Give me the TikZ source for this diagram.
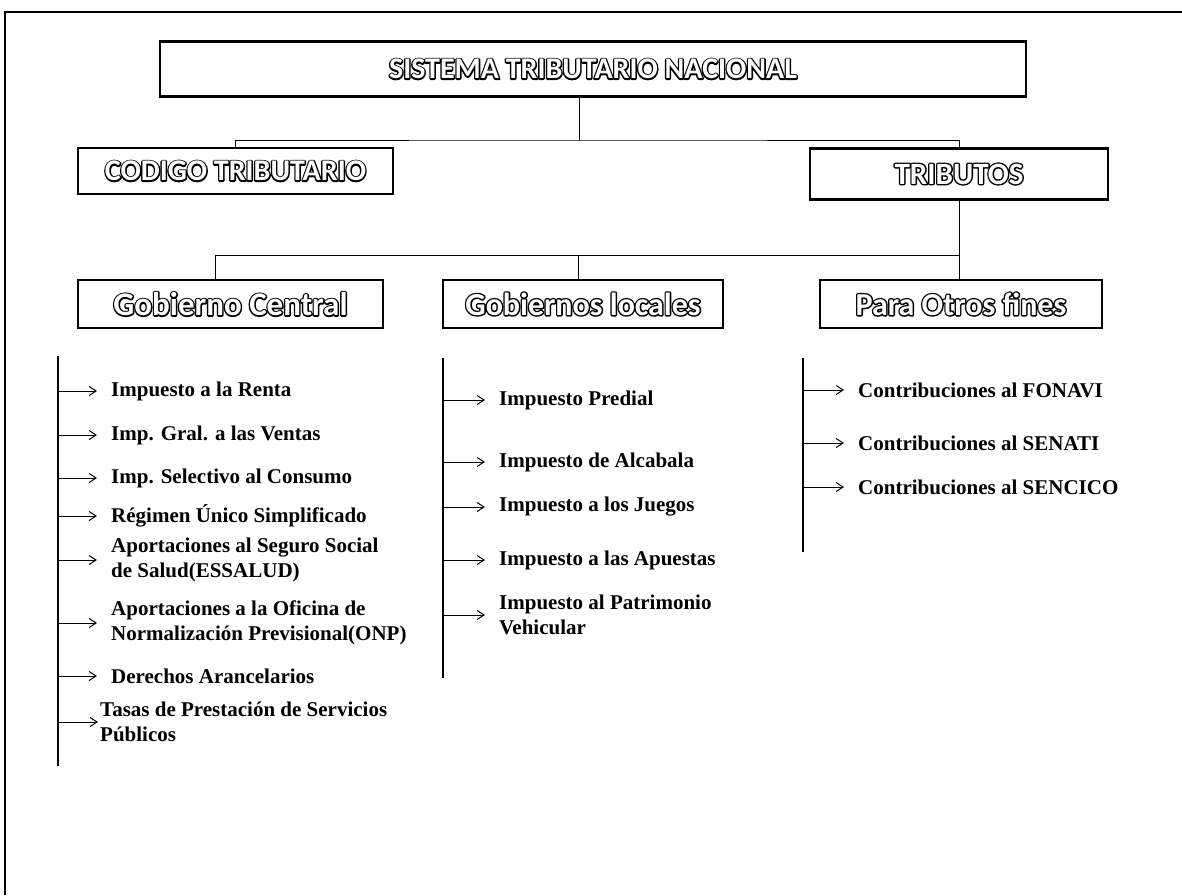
\documentclass[tikz,border=0pt]{standalone}
\usepackage{fontspec}
\setmainfont{Liberation Serif}
\newfontfamily\hdrfont{Carlito}[BoldFont={Carlito Bold}]
\usetikzlibrary{arrows.meta}
\newcommand{\hdr}[1]{\rlap{\special{pdf:literal direct 2 Tr 2.8 w 1 j}#1\special{pdf:literal direct 0 Tr}}\textcolor{white}{#1}}
\newcommand{\hdrsz}[1]{\hdrfont\bfseries\fontsize{#1}{#1}\selectfont}
\begin{document}
\begin{tikzpicture}[x=1pt,y=-1pt,
  hbox/.style={draw=black,line width=2.6pt,fill=white,inner sep=0pt},
  item/.style={anchor=west,inner xsep=14pt,inner ysep=1pt,align=left,
     font=\bfseries\fontsize{21}{25}\selectfont},
  conn/.style={line width=1pt,black},
  arr/.style={line width=1pt,-{Straight Barb[length=7pt,width=9pt,line width=1pt]}},
  colline/.style={line width=1.3pt,black}]
\useasboundingbox (0,0) rectangle (1182,895);
% outer frame (top and left)
\draw[line width=1.2pt] (1182,12) -- (5,12) -- (5,895);
% level 0 and 1
\node[hbox,minimum width=866pt,minimum height=55pt,font=\hdrsz{30}] (title) at (593,69) {\hdr{SISTEMA TRIBUTARIO NACIONAL}};
\node[hbox,minimum width=315pt,minimum height=46pt,font=\hdrsz{30}] (codigo) at (235.5,171) {\hdr{CODIGO TRIBUTARIO}};
\node[hbox,minimum width=298pt,minimum height=51pt,font=\hdrsz{31}] (tributos) at (959,174) {\hdr{TRIBUTOS}};
% level 2
\node[hbox,minimum width=305pt,minimum height=48pt,font=\hdrsz{33}] (gc) at (230.5,304) {\hdr{Gobierno Central}};
\node[hbox,minimum width=280pt,minimum height=48pt,font=\hdrsz{32}] (gl) at (583,304) {\hdr{Gobiernos locales}};
\node[hbox,minimum width=282pt,minimum height=48pt,font=\hdrsz{32}] (of) at (961,304) {\hdr{Para Otros fines}};
% junctions
\coordinate (j1) at (579,140);
\coordinate (j2a) at (215,255);
\coordinate (j2b) at (578,255);
\coordinate (j2c) at (959,255);
\draw[conn] (j1 |- title.south) -- (j1);
\draw[conn] (codigo.north) |- (j1) -| (tributos.north);
\draw[conn] (tributos.south) -- (j2c) -- (j2a);
\draw[conn] (j2a) -- (j2a |- gc.north);
\draw[conn] (j2b) -- (j2b |- gl.north);
\draw[conn] (j2c) -- (j2c |- of.north);
% column lines
\coordinate (c1t) at (58,356);  \coordinate (c1b) at (58,766);
\coordinate (c2t) at (443,358); \coordinate (c2b) at (443,678);
\coordinate (c3t) at (803,358); \coordinate (c3b) at (803,552);
\draw[colline] (c1t) -- (c1b);
\draw[colline] (c2t) -- (c2b);
\draw[colline] (c3t) -- (c3b);
% column 1
\node[item] (a1) at (97,391) {Impuesto a la Renta};
\node[item] (a2) at (97,435) {Imp. Gral. a las Ventas};
\node[item] (a3) at (97,478) {Imp. Selectivo al Consumo};
\node[item] (a4) at (97,516) {Régimen Único Simplificado};
\node[item] (a5) at (97,560) {Aportaciones al Seguro Social\\de Salud(ESSALUD)};
\node[item] (a6) at (97,623) {Aportaciones a la Oficina de\\Normalización Previsional(ONP)};
\node[item] (a7) at (97,676) {Derechos Arancelarios};
\node[item,inner xsep=2pt] (a8) at (98,722) {Tasas de Prestación de Servicios\\Públicos};
\foreach \n in {a1,a2,a3,a4,a5,a6,a7,a8}{\draw[arr] (c1t |- \n.west) -- (\n.west);}
% column 2
\node[item] (b1) at (485,400) {Impuesto Predial};
\node[item] (b2) at (485,462) {Impuesto de Alcabala};
\node[item] (b3) at (485,507) {Impuesto a los Juegos};
\node[item] (b4) at (485,560) {Impuesto a las Apuestas};
\node[item] (b5) at (485,615) {Impuesto al Patrimonio\\Vehicular};
\foreach \n in {b1,b2,b3,b4,b5}{\draw[arr] (c2t |- \n.west) -- (\n.west);}
% column 3
\node[item] (d1) at (844,390) {Contribuciones al FONAVI};
\node[item] (d2) at (844,443) {Contribuciones al SENATI};
\node[item] (d3) at (844,487) {Contribuciones al SENCICO};
\foreach \n in {d1,d2,d3}{\draw[arr] (c3t |- \n.west) -- (\n.west);}
\end{tikzpicture}
\end{document}
